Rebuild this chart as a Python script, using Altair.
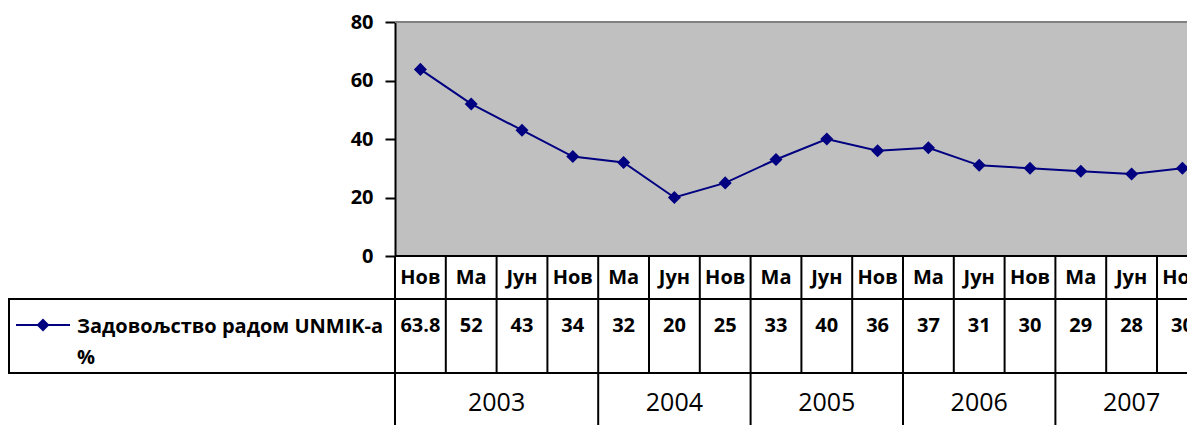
import altair as alt
import pandas as pd

months = ["Нов", "Ма", "Јун", "Нов", "Ма", "Јун", "Нов", "Ма", "Јун", "Нов", "Ма", "Јун", "Нов", "Ма", "Јун", "Нов"]
values = [63.8, 52, 43, 34, 32, 20, 25, 33, 40, 36, 37, 31, 30, 29, 28, 30]
years = ["2003", "2004", "2005", "2006", "2007"]
year_months = [4, 3, 3, 3, 3]
series_name = ["Задовољство радом UNMIK-a", "%"]
y_ticks = [0, 20, 40, 60, 80]

FONT = "Open Sans"
NAVY = "#000080"
COLW = 50.8
W, H = 792, 234

df = pd.DataFrame({
    "pos": [i + 0.5 for i in range(len(months))],
    "month": months,
    "value": values,
    "label": [f"{v:g}" for v in values],
})
bounds = pd.DataFrame({"b": list(range(len(months)))})
ends = pd.Series(year_months).cumsum()
starts = ends - pd.Series(year_months)
yr = pd.DataFrame({"year": years, "start": starts, "end": ends, "mid": (starts + ends) / 2})
one = pd.DataFrame({"k": [0]})

xs = alt.Scale(domain=[0, W / COLW], nice=False, zero=False)

line = alt.Chart(df).mark_line(color=NAVY, strokeWidth=2).encode(
    x=alt.X("pos:Q", scale=xs, axis=None),
    y=alt.Y("value:Q", scale=alt.Scale(domain=[0, 80], nice=False),
            axis=alt.Axis(values=y_ticks, title=None, grid=False, domainColor="black",
                          domainWidth=2, tickColor="black", tickWidth=2, tickSize=10,
                          labelFont=FONT, labelFontSize=20, labelFontWeight="bold",
                          labelColor="black", labelPadding=12)),
)
pts = alt.Chart(df).mark_point(shape="diamond", filled=True, size=170, color=NAVY, opacity=1).encode(
    x=alt.X("pos:Q", scale=xs), y=alt.Y("value:Q")
)

top_border = alt.Chart(one).mark_rule(color="#808080", strokeWidth=2).encode(
    x=alt.value(0), x2=alt.value(W), y=alt.value(0))

col_rules = alt.Chart(bounds).mark_rule(color="black", strokeWidth=2).encode(
    x=alt.X("b:Q", scale=xs), y=alt.value(H), y2=alt.value(H + 117))

h_axis = alt.Chart(one).mark_rule(color="black", strokeWidth=2).encode(
    x=alt.value(0), x2=alt.value(W), y=alt.value(H))
h_mid = alt.Chart(one).mark_rule(color="black", strokeWidth=2).encode(
    x=alt.value(-387), x2=alt.value(W), y=alt.value(H + 43))
h_bot = alt.Chart(one).mark_rule(color="black", strokeWidth=2).encode(
    x=alt.value(-387), x2=alt.value(W), y=alt.value(H + 117))
leg_left = alt.Chart(one).mark_rule(color="black", strokeWidth=2).encode(
    x=alt.value(-386), y=alt.value(H + 43), y2=alt.value(H + 117))

year_rules = alt.Chart(yr).mark_rule(color="black", strokeWidth=2).encode(
    x=alt.X("start:Q", scale=xs), y=alt.value(H + 117), y2=alt.value(H + 169))

cat_text = alt.Chart(df).mark_text(font=FONT, fontSize=20, fontWeight="bold", color="black",
                                   align="center", baseline="alphabetic").encode(
    x=alt.X("pos:Q", scale=xs), y=alt.value(H + 28), text="month:N")
val_text = alt.Chart(df).mark_text(font=FONT, fontSize=20, fontWeight="bold", color="black",
                                   align="center", baseline="alphabetic").encode(
    x=alt.X("pos:Q", scale=xs), y=alt.value(H + 76), text="label:N")
year_text = alt.Chart(yr).mark_text(font=FONT, fontSize=25, color="black",
                                    align="center", baseline="alphabetic").encode(
    x=alt.X("mid:Q", scale=xs), y=alt.value(H + 155), text="year:N")

leg_line = alt.Chart(one).mark_rule(color=NAVY, strokeWidth=2).encode(
    x=alt.value(-379), x2=alt.value(-325), y=alt.value(H + 69))
leg_pt = alt.Chart(one).mark_point(shape="diamond", filled=True, size=170, color=NAVY, opacity=1).encode(
    x=alt.value(-352), y=alt.value(H + 69))
leg_text = alt.Chart(one).mark_text(font=FONT, fontSize=20, fontWeight="bold", color="black",
                                    align="left", baseline="alphabetic", lineHeight=31).encode(
    x=alt.value(-318), y=alt.value(H + 77), text=alt.value(series_name))

chart = alt.layer(
    top_border, line, pts, col_rules, h_axis, h_mid, h_bot, leg_left, year_rules,
    cat_text, val_text, year_text, leg_line, leg_pt, leg_text,
).properties(
    width=W, height=H,
    autosize=alt.AutoSizeParams(type="none"),
    padding={"left": 387, "top": 14, "right": 0, "bottom": 169},
).configure_view(stroke=None, fill="#C0C0C0")

chart.save("out.html", embed_options={"renderer": "svg", "actions": False})
